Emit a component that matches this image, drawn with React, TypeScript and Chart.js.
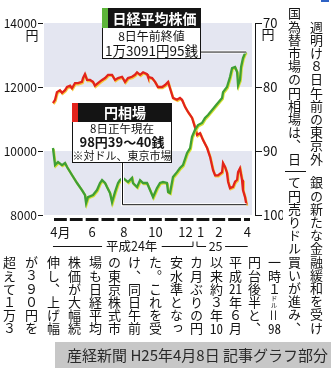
import React, { useEffect, useRef } from 'react';
import { Chart, registerables } from 'chart.js';

Chart.register(...registerables);

const FONT = '"Noto Sans CJK JP", "Noto Sans", sans-serif';

// Time axis: months counted from 1 April 2012 (平成24年4月)
const nikkeiMonths = [
  0.03, 0.16, 0.35, 0.6, 0.79, 0.92, 1.23, 1.55, 1.86, 2.05, 2.12, 2.24, 2.56, 2.81, 3.0, 3.13,
  3.32, 3.44, 3.63, 3.76, 3.95, 4.14, 4.26, 4.45, 4.77, 5.02, 5.08, 5.34, 5.53, 5.72, 5.97, 6.16,
  6.35, 6.6, 6.79, 6.98, 7.23, 7.3, 7.42, 7.61, 7.86, 8.05, 8.24, 8.5, 8.69, 8.81, 9.0, 9.19,
  9.44, 9.63, 9.82, 10.08, 10.39, 10.71, 10.77, 11.02, 11.21, 11.34, 11.53, 11.66, 11.72, 11.84,
  11.91, 12.03, 12.16, 12.23,
];
// 日経平均株価 (円)
const nikkeiValues = [
  10094, 9560, 9656, 9560, 9625, 9500, 9250, 9000, 8780, 8625, 8375, 8560, 8625, 8780, 9000, 9090,
  9000, 8875, 8690, 8400, 8720, 9000, 9090, 9160, 9030, 9160, 9000, 8875, 9090, 9000, 9000, 8780,
  8560, 8840, 9000, 9030, 9000, 8720, 8690, 9190, 9340, 9470, 9560, 9940, 10090, 10440, 10660, 10810,
  10875, 11030, 11125, 11280, 11470, 11660, 11840, 12000, 12310, 12590, 12625, 12470, 12060, 12220,
  12625, 12900, 13060, 13091.95,
];

const yenMonths = [
  0.03, 0.16, 0.28, 0.47, 0.6, 0.79, 0.92, 1.11, 1.23, 1.42, 1.61, 1.86, 1.93, 2.05, 2.18, 2.37,
  2.56, 2.68, 2.87, 3.13, 3.32, 3.51, 3.76, 3.95, 4.14, 4.39, 4.58, 4.77, 5.02, 5.21, 5.34, 5.53,
  5.72, 5.97, 6.03, 6.29, 6.48, 6.66, 6.92, 7.11, 7.3, 7.42, 7.61, 7.86, 8.05, 8.18, 8.37, 8.56,
  8.81, 9.0, 9.13, 9.32, 9.51, 9.76, 9.95, 10.14, 10.27, 10.45, 10.71, 10.77, 10.9, 11.02, 11.09,
  11.21, 11.4, 11.53, 11.66, 11.72, 11.84, 11.97, 12.03, 12.16, 12.25,
];
// 円相場 (円/ドル)
const yenValues = [
  82.5, 82.0, 80.8, 80.5, 80.9, 80.5, 80.0, 79.8, 80.2, 79.4, 79.4, 79.2, 78.6, 78.0, 78.9, 78.9,
  79.2, 79.8, 79.4, 78.9, 78.6, 78.1, 78.1, 78.9, 78.6, 78.4, 79.2, 78.6, 78.4, 78.1, 77.7, 78.1,
  77.7, 78.0, 78.4, 78.6, 79.2, 80.0, 80.0, 79.7, 79.2, 80.2, 81.7, 82.0, 81.7, 82.0, 83.1, 83.9,
  84.8, 86.3, 87.5, 87.2, 88.3, 89.5, 90.9, 93.0, 93.8, 93.8, 93.3, 91.9, 92.5, 93.4, 94.8,
  95.8, 95.6, 94.8, 94.5, 93.3, 92.7, 94.5, 96.1, 97.2, 98.39,
];

const stockTicks = [8000, 10000, 12000, 14000];
const fxTicks = [70, 80, 90, 100];
const monthTickAt = [0.5, 2.5, 4.5, 6.5, 8.4, 9.35, 10.5, 12.3];
const monthTickText = ['4月', '6', '8', '10', '12', '1', '2', '4'];
const monthCount = 13;

const INK = '#141414';

function leader(ctx: CanvasRenderingContext2D, pts: number[][]) {
  for (const [w, c] of [[3, '#ffffff'], [1, INK]] as [number, string][]) {
    ctx.beginPath();
    ctx.lineWidth = w;
    ctx.strokeStyle = c;
    pts.forEach(([x, y], i) => (i ? ctx.lineTo(x, y) : ctx.moveTo(x, y)));
    ctx.stroke();
  }
}

function labelBox(
  ctx: CanvasRenderingContext2D,
  x: number, y: number, w: number, headH: number, bodyH: number,
  swatch: string, title: string, lines: [string, string, number][],
) {
  ctx.fillStyle = '#ffffff';
  ctx.fillRect(x, y + headH, w, bodyH);
  ctx.strokeStyle = INK;
  ctx.lineWidth = 1;
  ctx.strokeRect(x + 0.5, y + headH - 0.5, w - 1, bodyH);
  ctx.fillStyle = INK;
  ctx.fillRect(x, y, w, headH);
  ctx.fillStyle = swatch;
  ctx.fillRect(x, y, 6, headH);
  ctx.fillStyle = '#ffffff';
  ctx.font = `bold 14px ${FONT}`;
  ctx.textAlign = 'center';
  ctx.textBaseline = 'middle';
  ctx.fillText(title, x + 3 + w / 2, y + headH / 2 + 0.5);
  ctx.fillStyle = INK;
  for (const [text, font, dy] of lines) {
    ctx.font = font;
    ctx.fillText(text, x + w / 2, y + headH + dy);
  }
}

const pressLook = {
  id: 'pressLook',
  beforeDatasetsDraw(chart: any) {
    const { ctx, chartArea: a, scales } = chart;
    const ys = scales.y;
    ctx.save();
    ctx.fillStyle = '#e4e6f1';
    for (let i = 0; i + 1 < stockTicks.length; i += 2) {
      const top = ys.getPixelForValue(stockTicks[i + 1]);
      const bot = ys.getPixelForValue(stockTicks[i]);
      ctx.fillRect(a.left + 1, top, a.right - a.left - 4, bot - top);
    }
    ctx.restore();
  },
  beforeDatasetDraw(chart: any, args: any) {
    const ctx = chart.ctx;
    ctx.save();
    ctx.shadowColor = args.index === 0 ? 'rgba(212,224,40,0.95)' : 'rgba(248,196,40,0.9)';
    ctx.shadowOffsetX = 0.7;
    ctx.shadowOffsetY = 1.1;
    ctx.shadowBlur = 0;
  },
  afterDatasetDraw(chart: any) {
    chart.ctx.restore();
  },
  afterDraw(chart: any) {
    const { ctx, chartArea: a, scales } = chart;
    const X = (m: number) => scales.x.getPixelForValue(m);
    ctx.save();

    // month bar under the plot
    ctx.strokeStyle = INK;
    ctx.lineWidth = 3;
    for (let m = 0; m < monthCount; m++) {
      const x0 = X(m) + 1.5;
      const x1 = Math.min(X(m + 1) - 1.5, a.right - 5);
      ctx.beginPath();
      ctx.moveTo(x0, a.bottom + 4.5);
      ctx.lineTo(x1, a.bottom + 4.5);
      ctx.stroke();
    }

    ctx.fillStyle = INK;
    ctx.textAlign = 'center';
    ctx.textBaseline = 'middle';
    ctx.font = `13px ${FONT}`;
    monthTickAt.forEach((m, i) => ctx.fillText(monthTickText[i], X(m), a.bottom + 17));

    // era bracket: 平成24年 | 25
    const yb = a.bottom + 31.5;
    ctx.lineWidth = 1;
    ctx.beginPath();
    ctx.moveTo(X(0.03), yb); ctx.lineTo(X(3.13), yb);
    ctx.moveTo(X(6.9), yb); ctx.lineTo(X(9) - 2, yb); ctx.lineTo(X(9) - 2, yb - 5);
    ctx.moveTo(X(9) + 2, yb - 5); ctx.lineTo(X(9) + 2, yb); ctx.lineTo(X(9.7), yb);
    ctx.moveTo(X(10.9), yb); ctx.lineTo(X(12.33), yb);
    ctx.stroke();
    ctx.font = `12.5px ${FONT}`;
    ctx.fillText('平成24年', X(5.0), yb);
    ctx.fillText('25', X(10.3), yb);

    // units
    ctx.font = `13px ${FONT}`;
    ctx.fillText('円', a.left - 11, a.top + 12);
    ctx.fillText('円', a.right + 13, a.top + 11);

    // leaders to latest values
    const nx = X(nikkeiMonths[nikkeiMonths.length - 1]);
    const ny = scales.y.getPixelForValue(nikkeiValues[nikkeiValues.length - 1]);
    const fx = X(yenMonths[yenMonths.length - 1]);
    const fy = scales.y2.getPixelForValue(yenValues[yenValues.length - 1]);
    leader(ctx, [[201, ny], [nx, ny]]);
    leader(ctx, [[122.5, 163], [122.5, fy], [fx, fy]]);

    labelBox(ctx, 102, 8, 99, 20, 31, '#5db53a', '日経平均株価', [
      ['8日午前終値', `12px ${FONT}`, 8],
      ['1万3091円95銭', `13.5px ${FONT}`, 23],
    ]);
    labelBox(ctx, 72, 103, 100, 19, 41, '#e3231c', '円相場', [
      ['8日正午現在', `11.5px ${FONT}`, 6.5],
      ['98円39～40銭', `bold 13px ${FONT}`, 20],
      ['※対ドル、東京市場', `11px ${FONT}`, 33.5],
    ]);
    ctx.restore();
  },
};

// article text, one entry per column, right to left
const topColumns: [number, number, string][] = [
  [316, 6.5, '　週明け８日午前の東京外'],
  [294, 6.5, '国為替市場の円相場は、日'],
  [316, 175.5, '銀の新たな金融緩和を受け'],
  [294, 175.5, 'て円売りドル買いが進み、'],
];
const lowerColumnX = [274, 254, 235, 216, 196, 176, 155, 134, 114, 95, 74, 53, 31, 9];
const lowerColumns = [
  '一時１{ドル}＝98',
  '円台後半と、',
  '平成21年６月',
  '以来約３年10',
  'カ月ぶりの円',
  '安水準となっ',
  'た。これを受',
  'け、同日午前',
  'の東京株式市',
  '場も日経平均',
  '株価が大幅続',
  '伸し、上げ幅',
  'が３９０円を',
  '超えて１万３',
];

function renderRun(text: string) {
  return text.split(/(\d{2,}|\{[^}]+\})/).map((part, i) => {
    if (/^\d{2,}$/.test(part)) {
      return (
        <span key={i} style={{ textCombineUpright: 'all' } as React.CSSProperties}>
          {part}
        </span>
      );
    }
    if (part.startsWith('{')) {
      return (
        <span key={i} style={{ fontSize: 6.6, letterSpacing: 0 }}>
          {part.slice(1, -1)}
        </span>
      );
    }
    return <React.Fragment key={i}>{part}</React.Fragment>;
  });
}

function Column({ x, top, text }: { x: number; top: number; text: string }) {
  return (
    <div
      style={{
        position: 'absolute',
        left: x - 10,
        top,
        width: 20,
        lineHeight: '20px',
        writingMode: 'vertical-rl',
        fontSize: 13,
        letterSpacing: '0.2px',
        whiteSpace: 'nowrap',
        color: INK,
      }}
    >
      {renderRun(text)}
    </div>
  );
}

export default function App() {
  const ref = useRef<HTMLCanvasElement>(null);

  useEffect(() => {
    const nikkei = nikkeiMonths.map((m, i) => ({ x: m, y: nikkeiValues[i] }));
    const yen = yenMonths.map((m, i) => ({ x: m, y: yenValues[i] }));
    const chart = new Chart(ref.current as HTMLCanvasElement, {
      type: 'line',
      data: {
        datasets: [
          {
            label: '日経平均株価',
            data: nikkei,
            yAxisID: 'y',
            borderColor: '#3f9f35',
            borderWidth: 2.3,
            pointRadius: 0,
            tension: 0,
          },
          {
            label: '円相場',
            data: yen,
            yAxisID: 'y2',
            borderColor: '#e2231b',
            borderWidth: 2.3,
            pointRadius: 0,
            tension: 0,
          },
        ],
      },
      options: {
        animation: false,
        responsive: false,
        maintainAspectRatio: false,
        layout: { padding: { left: 0, right: 48, top: 23, bottom: 153 } },
        plugins: { legend: { display: false }, tooltip: { enabled: false } },
        scales: {
          x: { type: 'linear', min: -0.6, max: 12.79, display: false },
          y: {
            position: 'left',
            min: 8000,
            max: 14000,
            afterBuildTicks: (s: any) => {
              s.ticks = stockTicks.map((v) => ({ value: v }));
            },
            afterFit: (s: any) => {
              s.width = 43;
            },
            border: { display: false },
            grid: { drawOnChartArea: false, tickLength: 5, color: INK, lineWidth: 1 },
            ticks: {
              color: INK,
              font: { family: FONT, size: 12 },
              padding: 1,
              callback: (v: any) => String(v),
            },
          },
          y2: {
            position: 'right',
            min: 70,
            max: 100,
            reverse: true,
            afterBuildTicks: (s: any) => {
              s.ticks = fxTicks.map((v) => ({ value: v }));
            },
            afterFit: (s: any) => {
              s.width = 28;
            },
            border: { display: true, color: INK, width: 1 },
            grid: { drawOnChartArea: false, tickLength: 7, color: INK, lineWidth: 1 },
            ticks: {
              color: INK,
              font: { family: FONT, size: 13 },
              padding: 1,
              callback: (v: any) => String(v),
            },
          },
        },
      },
      plugins: [pressLook],
    } as any);
    return () => chart.destroy();
  }, []);

  return (
    <div
      style={{
        position: 'absolute',
        left: 0,
        top: 0,
        width: 331,
        height: 368,
        overflow: 'hidden',
        background: '#ffffff',
        fontFamily: FONT,
      }}
    >
      <canvas ref={ref} width={331} height={368} style={{ position: 'absolute', left: 0, top: 0 }} />
      {topColumns.map(([x, top, text], i) => (
        <Column key={'t' + i} x={x} top={top} text={text} />
      ))}
      {lowerColumns.map((text, i) => (
        <Column key={'l' + i} x={lowerColumnX[i]} top={255.5} text={text} />
      ))}
      <div style={{ position: 'absolute', left: 285, top: 171, width: 21, height: 1, background: INK }} />
      <div style={{ position: 'absolute', left: 321, top: 0, width: 8, height: 2, background: '#2f62c4' }} />
      <div
        style={{
          position: 'absolute',
          left: 55,
          top: 342,
          width: 276,
          height: 26,
          background: '#c7c7c7',
          color: '#2a2a2a',
          fontSize: 15,
          lineHeight: '26px',
          textAlign: 'right',
          paddingRight: 3,
          boxSizing: 'border-box',
          whiteSpace: 'nowrap',
        }}
      >
        産経新聞 H25年4月8日 記事グラフ部分
      </div>
    </div>
  );
}
